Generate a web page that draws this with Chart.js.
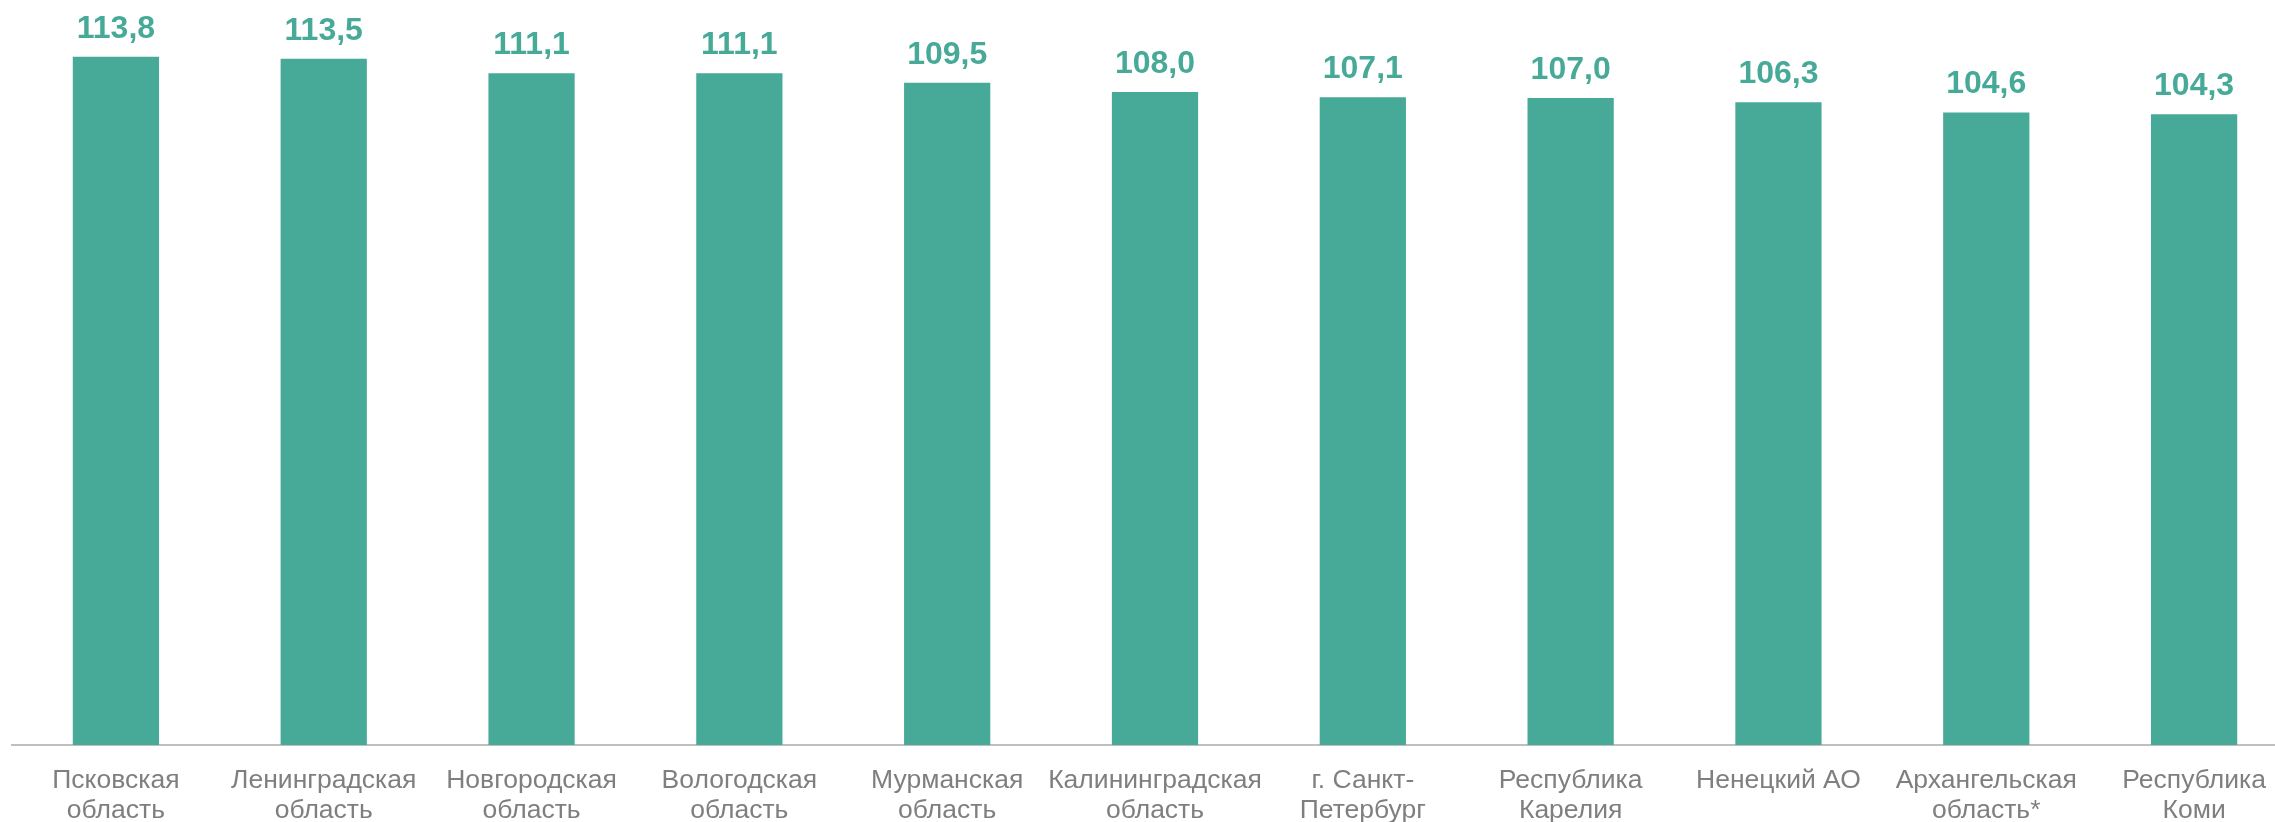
<!DOCTYPE html>
<html>
<head>
<meta charset="utf-8">
<script src="https://cdn.jsdelivr.net/npm/chart.js@4/dist/chart.umd.min.js"></script>
<style>
html,body{margin:0;padding:0;background:#fff;overflow:hidden;}
#wrap{position:relative;width:2298px;height:822px;}
</style>
</head>
<body>
<div id="wrap"><canvas id="c"></canvas></div>
<script>
const categories = [
  ["Псковская","область"],
  ["Ленинградская","область"],
  ["Новгородская","область"],
  ["Вологодская","область"],
  ["Мурманская","область"],
  ["Калининградская","область"],
  ["г. Санкт-","Петербург"],
  ["Республика","Карелия"],
  "Ненецкий АО",
  ["Архангельская","область*"],
  ["Республика","Коми"]
];
const values = [113.8, 113.5, 111.1, 111.1, 109.5, 108.0, 107.1, 107.0, 106.3, 104.6, 104.3];

const GREEN = '#47AA98';

const valueLabels = {
  id: 'valueLabels',
  afterDatasetsDraw(chart) {
    const ctx = chart.ctx;
    const meta = chart.getDatasetMeta(0);
    ctx.save();
    ctx.fillStyle = GREEN;
    ctx.font = 'bold 32px "Liberation Sans", Arial, sans-serif';
    ctx.textAlign = 'center';
    ctx.textBaseline = 'alphabetic';
    meta.data.forEach((bar, i) => {
      const txt = values[i].toFixed(1).replace('.', ',');
      ctx.fillText(txt, bar.x, bar.y - 19);
    });
    ctx.restore();
  }
};

new Chart(document.getElementById('c'), {
  type: 'bar',
  data: {
    labels: categories,
    datasets: [{
      data: values,
      backgroundColor: GREEN,
      borderWidth: 0,
      barPercentage: 0.415,
      categoryPercentage: 1.0
    }]
  },
  options: {
    responsive: true,
    maintainAspectRatio: false,
    animation: false,
    layout: { padding: { left: 12, right: 0, top: 0, bottom: 0 } },
    plugins: { legend: { display: false }, tooltip: { enabled: false } },
    scales: {
      x: {
        grid: { display: false, drawTicks: false },
        border: { display: true, color: '#BFBFBF', width: 2 },
        ticks: {
          color: '#7F7F7F',
          font: { family: '"Liberation Sans", Arial, sans-serif', size: 26.5, lineHeight: 1.12 },
          maxRotation: 0,
          minRotation: 0,
          autoSkip: false,
          padding: 21
        },
        afterFit(s) { s.height = 77; }
      },
      y: {
        display: false,
        min: 0,
        max: 123.2
      }
    }
  },
  plugins: [valueLabels]
});
</script>
</body>
</html>
